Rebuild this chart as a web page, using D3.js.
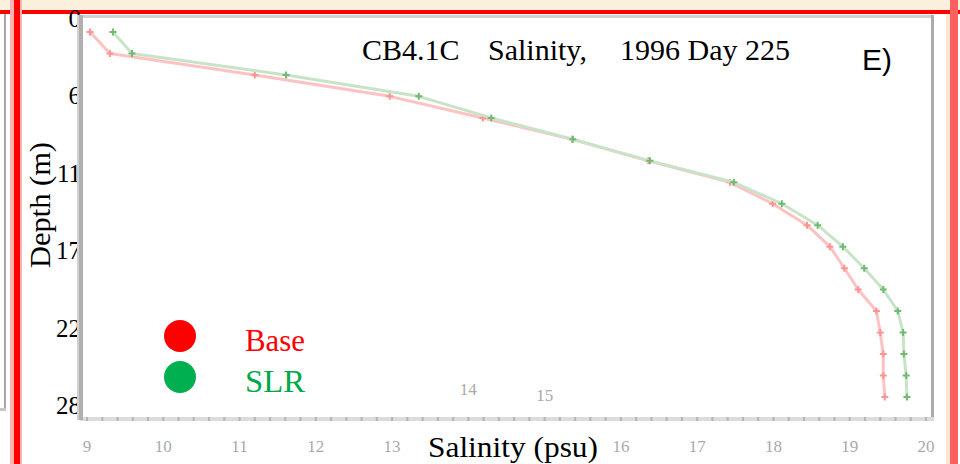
<!DOCTYPE html>
<html>
<head>
<meta charset="utf-8">
<script src="https://cdn.jsdelivr.net/npm/d3@7"></script>
<style>
  html, body { margin: 0; padding: 0; background: #fff; }
  svg { display: block; }
  text { font-family: "Liberation Serif", "Times New Roman", serif; }
</style>
</head>
<body>
<svg id="chart" width="960" height="464"></svg>
<script>
// ---------------- data ----------------
const depths = [1.01, 2.57, 4.12, 5.66, 7.22, 8.76, 10.32, 11.87, 13.42, 14.97, 16.52, 18.08, 19.62, 21.17, 22.73, 24.28, 25.83, 27.38];
const baseSalinity = [9.04, 9.30, 11.20, 12.97, 14.19, 15.36, 16.36, 17.43, 17.99, 18.44, 18.74, 18.93, 19.11, 19.35, 19.40, 19.44, 19.44, 19.46];
const slrSalinity  = [9.34, 9.59, 11.61, 13.35, 14.30, 15.37, 16.38, 17.48, 18.11, 18.58, 18.91, 19.19, 19.44, 19.63, 19.70, 19.71, 19.74, 19.75];
const xTicks = [9, 10, 11, 12, 13, 14, 15, 16, 17, 18, 19, 20];
const yTicks = [0, 5.6, 11.2, 16.8, 22.4, 28];
const yTickLabels = ["0", "6", "11", "17", "22", "28"];
const seriesNames = ["Base", "SLR"];
const titleParts = ["CB4.1C", "Salinity,", "1996 Day 225"];
const panelLabel = "E)";
const xTitle = "Salinity (psu)";
const yTitle = "Depth (m)";

// ---------------- layout ----------------
const W = 960, H = 464;
const frame = { left: 80, right: 932, top: 17, bottom: 418 };
const svg = d3.select("#chart");

const x = d3.scaleLinear().domain([9, 20]).range([87, 926]);
const y = d3.scaleLinear().domain([0, 28.9]).range([frame.top + 1, frame.bottom]);

const colors = {
  base: { line: "#ffc2c2", marker: "#ff9494", legend: "#ff0000", text: "#ff0000" },
  slr:  { line: "#c8e4c8", marker: "#72ba72", legend: "#00b050", text: "#00a84a" }
};

// background
svg.append("rect").attr("width", W).attr("height", H).attr("fill", "#fff");

// page decorations (outer frame of the screenshot)
svg.append("rect").attr("x", 0).attr("y", 0).attr("width", W).attr("height", 10).attr("fill", "#faf0db");
svg.append("rect").attr("x", 0).attr("y", 10).attr("width", W).attr("height", 4).attr("fill", "#ff0000");
svg.append("rect").attr("x", 4).attr("y", 14).attr("width", 2).attr("height", 395).attr("fill", "#a8a8a8");
svg.append("rect").attr("x", 0).attr("y", 408).attr("width", 6).attr("height", 3).attr("fill", "#c8c8c8");
svg.append("rect").attr("x", 10).attr("y", 0).attr("width", 12).attr("height", H).attr("fill", "#ffb4b4");
svg.append("rect").attr("x", 14).attr("y", 0).attr("width", 6).attr("height", H).attr("fill", "#ff0000");
svg.append("rect").attr("x", 946).attr("y", 14).attr("width", 4).attr("height", H).attr("fill", "#fde7cf");
svg.append("rect").attr("x", 950).attr("y", 0).attr("width", 8).attr("height", H).attr("fill", "#ff5f5f");

// plot frame
svg.append("rect").attr("x", frame.left).attr("y", 15).attr("width", frame.right - frame.left + 2).attr("height", 3).attr("fill", "#d2d2d2");
svg.append("rect").attr("x", frame.right - 1).attr("y", 15).attr("width", 3).attr("height", frame.bottom - 13).attr("fill", "#ababab");
svg.append("rect").attr("x", frame.left).attr("y", frame.bottom - 1).attr("width", frame.right - frame.left + 2).attr("height", 4).attr("fill", "#dcdcdc");

// y tick labels (drawn before the axis bar so the bar overlaps them)
svg.append("g").selectAll("text").data(yTicks).join("text")
  .attr("x", 81).attr("y", d => y(d)).attr("dy", "0.35em")
  .attr("text-anchor", "end").attr("font-size", 25).attr("fill", "#000")
  .text((d, i) => yTickLabels[i]);

// left axis bar
svg.append("rect").attr("x", 77).attr("y", 15).attr("width", 2).attr("height", frame.bottom - 13).attr("fill", "#d0d0d0");
svg.append("rect").attr("x", 79).attr("y", 15).attr("width", 4).attr("height", frame.bottom - 13).attr("fill", "#b0b0b0");

// minor ticks on bottom axis
const minor = d3.range(9, 20.001, 0.2);
svg.append("g").selectAll("rect").data(minor).join("rect")
  .attr("x", d => x(d) - 1).attr("y", frame.bottom - 1).attr("width", 2).attr("height", 4)
  .attr("fill", "#b4b4b4");

// x tick labels (two of them sit inside the plot in the reference)
const labelShift = { 14: -57, 15: -51 };
svg.append("g").selectAll("text").data(xTicks).join("text")
  .attr("x", d => x(d)).attr("y", d => 452 + (labelShift[d] || 0))
  .attr("text-anchor", "middle").attr("font-size", 17).attr("fill", "#aaaaaa")
  .text(d => d);

// series lines and markers
const line = d3.line().x(d => x(d[0])).y(d => y(d[1]));
const series = [
  { key: "base", values: baseSalinity },
  { key: "slr", values: slrSalinity }
];
series.forEach(s => {
  const pts = s.values.map((v, i) => [v, depths[i]]);
  svg.append("path").datum(pts)
    .attr("d", line).attr("fill", "none")
    .attr("stroke", colors[s.key].line).attr("stroke-width", 3)
    .attr("stroke-linejoin", "round");
  const g = svg.append("g");
  g.selectAll("path").data(pts).join("path")
    .attr("d", d => {
      const cx = x(d[0]), cy = y(d[1]);
      return `M${cx - 3.5},${cy}H${cx + 3.5}M${cx},${cy - 3.5}V${cy + 3.5}`;
    })
    .attr("stroke", colors[s.key].marker).attr("stroke-width", 2).attr("fill", "none");
});

// title
const title = svg.append("text").attr("y", 60).attr("font-size", 30).attr("fill", "#000");
const titleX = [362, 488, 620];
titleParts.forEach((t, i) => {
  title.append("tspan").attr("x", titleX[i]).text(t);
});

// panel label
svg.append("text").attr("x", 862).attr("y", 70)
  .style("font-family", "'Liberation Sans', Arial, sans-serif")
  .attr("font-size", 30).attr("fill", "#000").text(panelLabel);

// axis titles
svg.append("text").attr("x", 513).attr("y", 457).attr("text-anchor", "middle")
  .attr("font-size", 30).attr("textLength", 170).attr("lengthAdjust", "spacingAndGlyphs")
  .attr("fill", "#000").text(xTitle);
svg.append("text").attr("transform", "translate(50,205) rotate(-90)")
  .attr("text-anchor", "middle").attr("font-size", 30)
  .attr("textLength", 126).attr("lengthAdjust", "spacingAndGlyphs")
  .attr("fill", "#000").text(yTitle);

// legend
const legend = svg.append("g");
const legendKeys = ["base", "slr"];
legendKeys.forEach((k, i) => {
  const cy = 336 + i * 41;
  legend.append("circle").attr("cx", 180).attr("cy", cy).attr("r", 16).attr("fill", colors[k].legend);
  legend.append("text").attr("x", 245).attr("y", cy + 15)
    .attr("font-size", 32).attr("textLength", 60).attr("lengthAdjust", "spacingAndGlyphs")
    .attr("fill", colors[k].text).text(seriesNames[i]);
});
</script>
</body>
</html>
